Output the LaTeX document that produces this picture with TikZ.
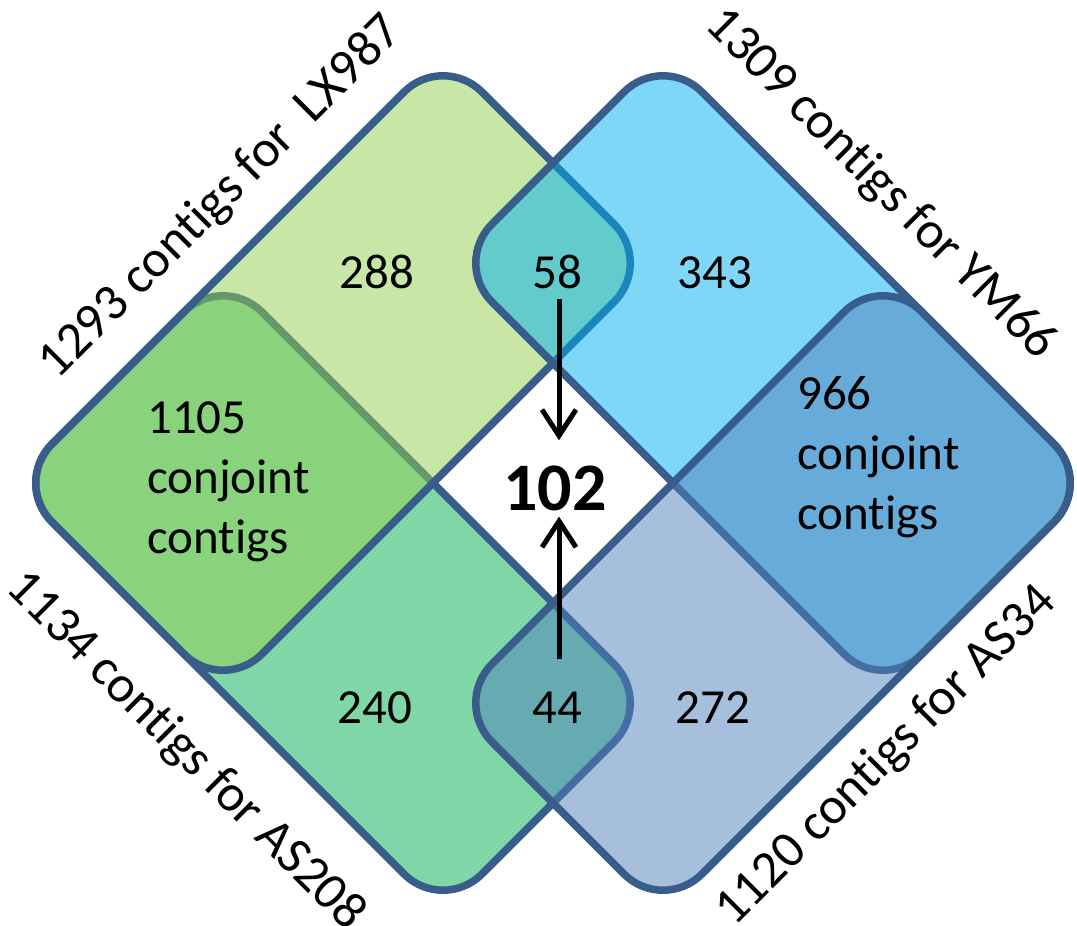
\documentclass[tikz,border=0pt]{standalone}
\usepackage{fontspec}
\setmainfont{Carlito}[Ligatures=NoCommon]
\usetikzlibrary{arrows.meta}
\definecolor{edgeblue}{HTML}{385D8A}
\definecolor{setA}{HTML}{92D050}% LX987
\definecolor{setB}{HTML}{00B0F0}% YM66
\definecolor{setC}{HTML}{00B050}% AS208
\definecolor{setD}{HTML}{4F81BD}% AS34
\begin{document}
\begin{tikzpicture}[x=1pt, y=-1pt,
  setshape/.style={draw=edgeblue, line width=7.5pt, rounded corners=55pt,
    fill opacity=0.5, line join=round},
  count/.style={font=\fontsize{49}{60}\selectfont, inner sep=0pt, anchor=base},
  setlabel/.style={font=\fontsize{52}{60}\selectfont, inner sep=0pt, anchor=base},
  pointer/.style={line width=5pt, -{Straight Barb[length=26pt, width=34pt]}}
]
\useasboundingbox[fill=white] (0,0) rectangle (1077,926);

% the four sets, drawn bottom layer first so overlaps blend
\path[setshape, fill=setC] (548,808) -- (653,703) -- (223,273) -- (13,483) -- (443,913) -- cycle;
\path[setshape, fill=setA] (548,158) -- (653,263) -- (223,693) -- (13,483) -- (443,53) -- cycle;
\path[setshape, fill=setB] (558,158) -- (663,53) -- (1093,483) -- (883,693) -- (453,263) -- cycle;
\path[setshape, fill=setD] (558,808) -- (453,703) -- (883,273) -- (1093,483) -- (663,913) -- cycle;

% set names
\node[setlabel, rotate=45]  (labA) at (231,207) {1293 contigs for\ \ LX987};
\node[setlabel, rotate=-45] (labB) at (871,194) {1309 contigs for YM66};
\node[setlabel, rotate=-45] (labC) at (176,761) {1134 contigs for AS208};
\node[setlabel, rotate=45]  (labD) at (896,766) {1120 contigs for AS34};

% region counts
\node[count] (c288) at (377,288) {288};
\node[count] (c58)  at (557,288) {58};
\node[count] (c343) at (715,288) {343};
\node[count] (c240) at (375,723) {240};
\node[count] (c44)  at (557,723) {44};
\node[count] (c272) at (713,723) {272};
\node[count, font=\bfseries\fontsize{68}{80}\selectfont] (c102) at (555,510) {102};
\node[count, anchor=base west, align=left] (c1105) at (147,553) {1105\\conjoint\\contigs};
\node[count, anchor=base west, align=left] (c966) at (797,529) {966\\conjoint\\contigs};

% pointers into the shared core
\draw[pointer] ([shift={(2pt,-10pt)}]c58.south) -- ([shift={(4pt,25pt)}]c102.north);
\draw[pointer] ([shift={(2pt,32pt)}]c44.north) -- ([shift={(4pt,-6pt)}]c102.south);
\end{tikzpicture}
\end{document}
